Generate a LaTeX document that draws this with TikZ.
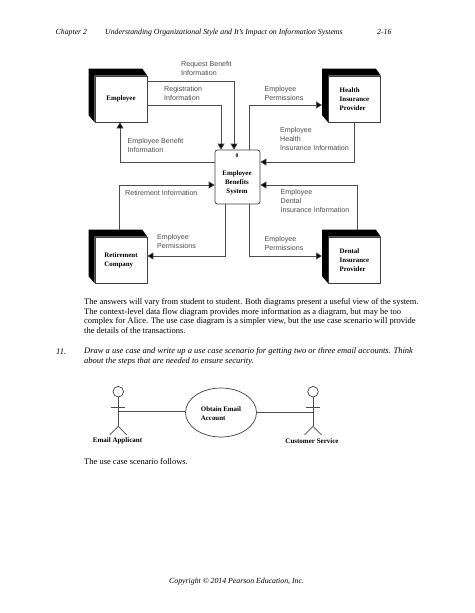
\documentclass[tikz,border=0pt]{standalone}
\usepackage{fontspec}
\setmainfont{Liberation Serif}
\newfontfamily\labelfont{Liberation Sans}
\usetikzlibrary{arrows.meta,shapes.geometric}
\tikzset{
  entity/.style={draw=black!75, fill=white, line width=0.7pt, minimum width=52pt, minimum height=46pt, inner sep=0pt, align=left, font=\fontsize{6.9}{9}\selectfont\bfseries},
  flow/.style={draw=black!70, line width=0.7pt, -{Triangle[length=6pt,width=7pt,fill=black]}},
  line/.style={draw=black!70, line width=0.7pt},
  flowlabel/.style={anchor=north west, inner sep=0pt, align=left, text=black!70, font=\labelfont\fontsize{7.1}{9}\selectfont},
  body/.style={anchor=north west, inner sep=0pt, align=left, font=\fontsize{8.5}{9.85}\selectfont},
  header/.style={anchor=base west, inner sep=0pt, font=\fontsize{7.8}{9}\selectfont\itshape},
  actorname/.style={inner sep=0pt, font=\fontsize{7}{9}\selectfont\bfseries}
}
\begin{document}
\begin{tikzpicture}[x=1pt,y=-1pt]
  \useasboundingbox[fill=white] (0,0) rectangle (474,613);

  % Header and footer
  \node[header] (chapter) at (55.5,34.5) {Chapter 2};
  \node[header] (title) at (105,34.5) {Understanding Organizational Style and It’s Impact on Information Systems};
  \node[header] (pageno) at (377,34.5) {2-16};
  \node[header, anchor=base] (footer) at (236.6,583) {Copyright © 2014 Pearson Education, Inc.};

  % Define nodes
  \node[entity] (employee) at (121,99) {Employee};
  \node[entity] (health) at (354.5,99) {Health\\Insurance\\Provider};
  \node[entity] (retirement) at (121,260) {Retirement\\Company};
  \node[entity] (dental) at (354.5,260) {Dental\\Insurance\\Provider};
  \node[draw=black!75, fill=white, line width=0.7pt, rounded corners=2.5pt, minimum width=45pt, minimum height=54pt, inner sep=0pt] (process) at (237.5,177) {};
  \node[actorname, font=\fontsize{5.6}{9}\selectfont\bfseries] (processid) at (237,155.5) {0};
  \node[entity, align=center, draw=none, fill=none, minimum width=0pt, minimum height=0pt] (processname) at (237,183) {Employee\\Benefits\\System};

  % Black sides of the boxes
  \foreach \ent in {employee,health,retirement,dental} {
    \fill[black] (\ent.south west) -- ++(-6,-7) -- ([shift={(-6,-7)}]\ent.north west)
      -- ([shift={(-5,-7)}]\ent.north east) -- (\ent.north east) -- (\ent.north west) -- cycle;
  }

  % Corners of the flows
  \coordinate (request) at (234,81);
  \coordinate (registration) at (221,105);
  \coordinate (benefit) at (120,162);
  \coordinate (healthperm) at (249,105);
  \coordinate (healthinfo) at (354,162);
  \coordinate (retireinfo) at (119,185);
  \coordinate (retireperm) at (225,256);
  \coordinate (dentalinfo) at (357,185);
  \coordinate (dentalperm) at (249,256);
  \coordinate (healthside) at (322,105);
  \coordinate (dentalside) at (322,256);
  \coordinate (retiretop) at (119,230);
  \coordinate (dentaltop) at (357,230);

  % Draw edges
  \draw[flow] (employee.east |- request) -- (request) -- (request |- process.north);
  \draw[flow] (employee.east |- registration) -- (registration) -- (registration |- process.north);
  \draw[flow] (process.west |- benefit) -- (benefit) -- (benefit |- employee.south);
  \draw[flow] (healthperm |- process.north) -- (healthperm) -- (healthside);
  \draw[flow] (healthinfo |- health.south) -- (healthinfo) -- (process.east |- healthinfo);
  \draw[flow] (retiretop) -- (retireinfo) -- (process.west |- retireinfo);
  \draw[flow] (retireperm |- process.south) -- (retireperm) -- (retirement.east |- retireperm);
  \draw[flow] (dentaltop) -- (dentalinfo) -- (process.east |- dentalinfo);
  \draw[flow] (dentalperm |- process.south) -- (dentalperm) -- (dentalside);

  % Flow labels
  \node[flowlabel] (requestlabel) at (181,61) {Request Benefit\\Information};
  \node[flowlabel] (registrationlabel) at (164,86) {Registration\\Information};
  \node[flowlabel] (benefitlabel) at (127.5,138) {Employee Benefit\\Information};
  \node[flowlabel] (healthpermlabel) at (264.5,86) {Employee\\Permissions};
  \node[flowlabel] (healthinfolabel) at (280,127) {Employee\\Health\\Insurance Information};
  \node[flowlabel] (retireinfolabel) at (125,190) {Retirement Information};
  \node[flowlabel] (retirepermlabel) at (157,234.5) {Employee\\Permissions};
  \node[flowlabel] (dentalinfolabel) at (280.5,189) {Employee\\Dental\\Insurance Information};
  \node[flowlabel] (dentalpermlabel) at (264.5,236.5) {Employee\\Permissions};

  % Text
  \node[body] (answers) at (84,298) {The answers will vary from student to student. Both diagrams present a useful view of the system.\\The context-level data flow diagram provides more information as a diagram, but may be too\\complex for Alice. The use case diagram is a simpler view, but the use case scenario will provide\\the details of the transactions.};
  \node[header, font=\fontsize{8.5}{9.85}\selectfont\itshape] (number) at (56,354) {11.};
  \node[body, font=\fontsize{8.5}{9.85}\selectfont\itshape] (question) at (84,347) {Draw a use case and write up a use case scenario for getting two or three email accounts. Think\\about the steps that are needed to ensure security.};
  \node[body] (follows) at (84,458.5) {The use case scenario follows.};

  % Use case
  \node[draw=black!75, line width=0.7pt, ellipse, minimum width=71pt, minimum height=49pt, inner sep=0pt] (usecase) at (221,412.5) {};
  \node[actorname, anchor=north west, align=left, font=\fontsize{6.9}{9.3}\selectfont\bfseries] (usecasename) at (200.7,406.2) {Obtain Email\\Account};
  \node[draw=black!75, line width=0.7pt, circle, minimum size=10.6pt, inner sep=0pt] (headleft) at (118.3,391.7) {};
  \node[draw=black!75, line width=0.7pt, circle, minimum size=10.6pt, inner sep=0pt] (headright) at (313,391.7) {};
  \foreach \hd/\sd in {headleft/left,headright/right} {
    \coordinate (hip\sd) at ([shift={(0,29)}]\hd.south);
    \draw[line] (\hd.south) -- (hip\sd);
    \draw[line] ([shift={(-7,10)}]\hd.south) -- ([shift={(7,10)}]\hd.south);
    \draw[line] ([shift={(-8.5,8.5)}]hip\sd) -- (hip\sd) -- ([shift={(8.5,8.5)}]hip\sd);
  }
  \coordinate (linkleft) at (118.3,411.7);
  \coordinate (linkright) at (313,412);
  \draw[line] (linkleft) -- (usecase.west |- linkleft);
  \draw[line] (usecase.east |- linkright) -- (linkright);
  \node[actorname] (applicant) at (117.5,440.7) {Email Applicant};
  \node[actorname] (service) at (312,440.7) {Customer Service};
\end{tikzpicture}
\end{document}
